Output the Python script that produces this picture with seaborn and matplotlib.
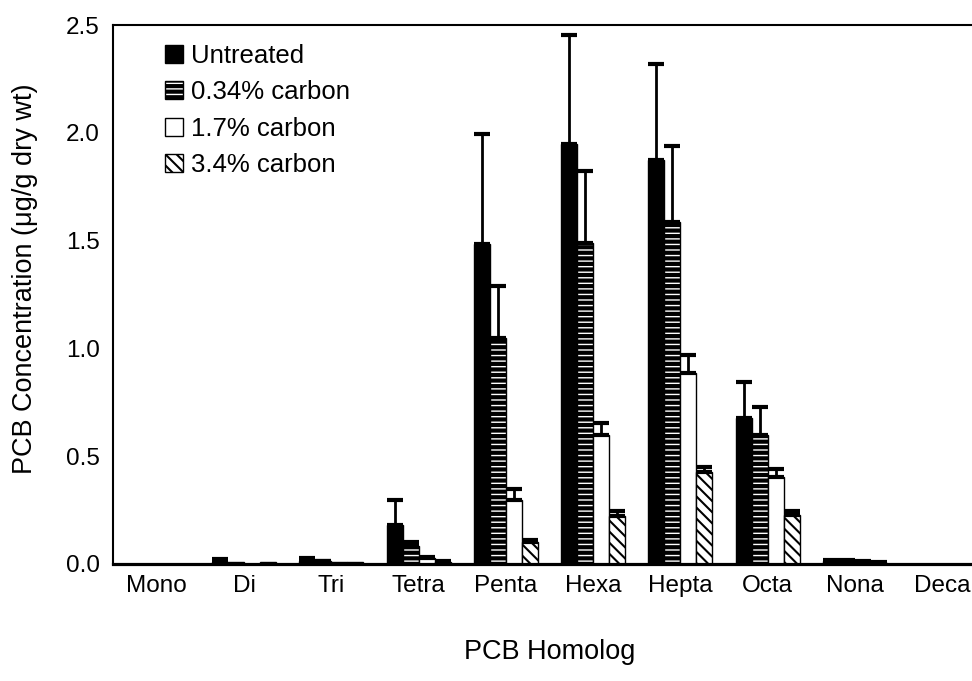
import numpy as np
import pandas as pd
import matplotlib
matplotlib.use("Agg")
import matplotlib.pyplot as plt
import seaborn as sns

# ==========================
# DATA
# ==========================
homologs = ["Mono", "Di", "Tri", "Tetra", "Penta", "Hexa", "Hepta", "Octa", "Nona", "Deca"]
treatments = ["Untreated", "0.34% carbon", "1.7% carbon", "3.4% carbon"]

untreated = [0, 0.008, 0.012, 0.181, 1.484, 1.948, 1.874, 0.677, 0.012, 0]
untreated_err = [0, 0.017, 0.016, 0.116, 0.511, 0.505, 0.445, 0.168, 0.008, 0]

carbon_034 = [0, 0.008, 0.013, 0.083, 1.048, 1.490, 1.587, 0.598, 0.012, 0]
carbon_034_err = [0, 0, 0.003, 0.018, 0.242, 0.335, 0.350, 0.129, 0.005, 0]

carbon_17 = [0, 0, 0.009, 0.028, 0.297, 0.598, 0.886, 0.403, 0.010, 0]
carbon_17_err = [0, 0, 0, 0.004, 0.051, 0.056, 0.083, 0.037, 0.003, 0]

carbon_34 = [0, 0.010, 0.007, 0.010, 0.100, 0.222, 0.427, 0.227, 0.006, 0]
carbon_34_err = [0, 0, 0, 0.002, 0.011, 0.024, 0.023, 0.019, 0.002, 0]

y_ticks = [0.0, 0.5, 1.0, 1.5, 2.0, 2.5]

values = [untreated, carbon_034, carbon_17, carbon_34]
errors = [untreated_err, carbon_034_err, carbon_17_err, carbon_34_err]

df = pd.DataFrame({
    "homolog": np.tile(homologs, len(treatments)),
    "treatment": np.repeat(treatments, len(homologs)),
    "value": np.concatenate(values),
})

# ==========================
# STYLE
# ==========================
sns.set_style("white")
plt.rcParams["font.family"] = ["Liberation Sans", "DejaVu Sans"]
plt.rcParams["text.color"] = "black"
plt.rcParams["axes.labelcolor"] = "black"
plt.rcParams["xtick.color"] = "black"
plt.rcParams["ytick.color"] = "black"
plt.rcParams["hatch.color"] = "black"

face_colors = ["black", "white", "white", "white"]
hatches = [None, "---", None, "\\\\\\"]
hatch_widths = [1.0, 3.0, 1.0, 1.5]

fig = plt.figure(figsize=(9.72, 6.81), dpi=100)
ax = fig.add_axes([113 / 972, 1 - 564 / 681, 873 / 972, 539 / 681])

sns.barplot(
    data=df, x="homolog", y="value", hue="treatment",
    order=homologs, hue_order=treatments,
    palette=face_colors, errorbar=None, width=0.733,
    edgecolor="black", linewidth=1.0, saturation=1, legend=False, ax=ax
)

# hatches and error bars (upward only) on the seaborn bars
for cont, hatch, hw, err in zip(ax.containers, hatches, hatch_widths, errors):
    xs, hs = [], []
    for bar in cont:
        if hatch:
            bar.set_hatch(hatch)
            if hasattr(bar, "set_hatch_linewidth"):
                bar.set_hatch_linewidth(hw)
        xs.append(bar.get_x() + bar.get_width() / 2)
        hs.append(bar.get_height())
    err = np.array(err)
    mask = err > 0
    ax.errorbar(np.array(xs)[mask], np.array(hs)[mask],
                yerr=[np.zeros(mask.sum()), err[mask]],
                fmt="none", ecolor="black", elinewidth=2.0,
                capsize=6, capthick=3, zorder=3)

# ==========================
# AXES
# ==========================
ax.set_xlim(-0.5, len(homologs) - 0.5)
ax.set_ylim(0, 2.5)
ax.set_yticks(y_ticks)
ax.set_yticklabels([f"{t:.1f}" for t in y_ticks])

ax.set_xticks(np.arange(len(homologs) + 1) - 0.5)
ax.set_xticklabels([])
ax.set_xticks(np.arange(len(homologs)), minor=True)
ax.set_xticklabels(homologs, minor=True)
ax.tick_params(axis="x", which="major", direction="out", length=6, width=1.5)
ax.tick_params(axis="x", which="minor", length=0, pad=8, labelsize=17.5)
ax.tick_params(axis="y", direction="inout", length=7, width=1.5,
               pad=6, labelsize=17.5)

for side in ["left", "top"]:
    ax.spines[side].set_linewidth(1.5)
    ax.spines[side].set_color("black")
ax.spines["bottom"].set_linewidth(2.3)
ax.spines["bottom"].set_color("black")
ax.spines["right"].set_visible(False)

ax.set_xlabel("PCB Homolog", fontsize=19.5)
ax.set_ylabel("PCB Concentration (μg/g dry wt)", fontsize=19.5)
ax.xaxis.set_label_coords(0.5, -0.14)
ax.yaxis.set_label_coords(-0.086, 0.53)

leg = ax.legend(
    handles=[c[0] for c in ax.containers], labels=treatments,
    loc="upper left", bbox_to_anchor=(0.06, 0.965), frameon=False,
    fontsize=18.5, handlelength=0.7, handleheight=0.7,
    handletextpad=0.3, labelspacing=0.48, borderpad=0, borderaxespad=0
)
for h, hw in zip(leg.legend_handles, hatch_widths):
    if hasattr(h, "set_hatch_linewidth"):
        h.set_hatch_linewidth(hw)

fig.savefig("out.png", dpi=100)
